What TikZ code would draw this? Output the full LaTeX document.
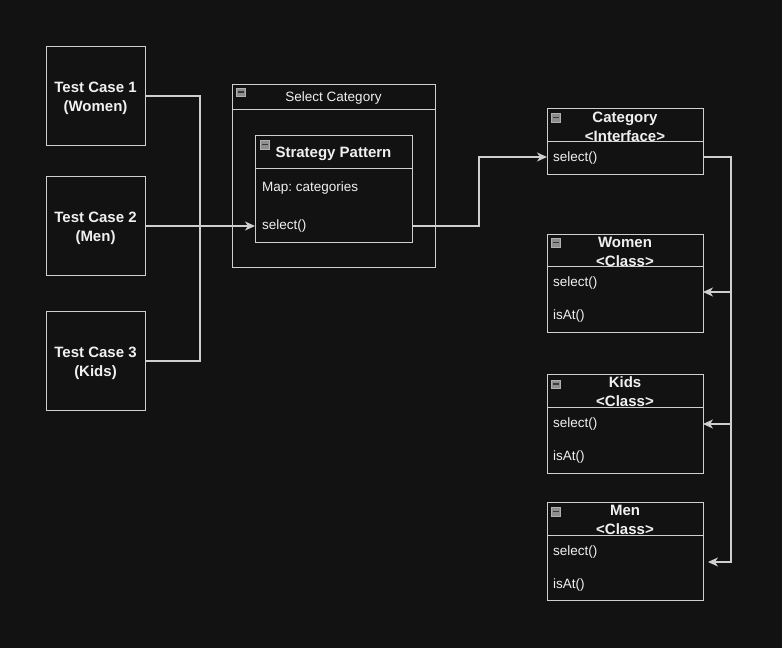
\documentclass[tikz,border=0pt]{standalone}
\usepackage{fontspec}
\setmainfont{Liberation Sans}
\usetikzlibrary{arrows.meta}
\definecolor{bg}{HTML}{121212}
\definecolor{ln}{HTML}{CFCFCF}
\definecolor{tx}{HTML}{F0F0F0}
\definecolor{icf}{HTML}{8E8E8E}
\definecolor{icd}{HTML}{3A3A3A}
\frenchspacing
\begin{document}
\begin{tikzpicture}[x=1pt,y=-1pt,
  box/.style={draw=ln, line width=1pt, inner sep=0pt, anchor=north west},
  lbl/.style={text=tx, font=\fontsize{13.5}{18}\selectfont, inner sep=0pt},
  blbl/.style={text=tx, font=\fontsize{15}{19}\selectfont\bfseries, inner sep=0pt, align=center},
  mem/.style={lbl, anchor=west},
  conn/.style={draw=ln, line width=1.1pt},
  arr/.style={conn, -{Stealth[length=10pt,width=9pt,inset=3pt]}},
  hdr/.style={draw=ln, line width=1pt},
  icon/.style={draw=icf!70, fill=icf, minimum width=9pt, minimum height=8.5pt, inner sep=0pt,
    path picture={\draw[icd, line width=1.2pt] ([xshift=1.5pt]path picture bounding box.west) -- ([xshift=-1.5pt]path picture bounding box.east);}}
]
\fill[bg] (0,0) rectangle (782,648);
\useasboundingbox (0,0) rectangle (782,648);

% Test cases
\node[box, minimum width=99pt, minimum height=99pt] (tc1) at (46,46) {};
\node[box, minimum width=99pt, minimum height=99pt] (tc2) at (46,176) {};
\node[box, minimum width=99pt, minimum height=99pt] (tc3) at (46,311) {};
\node[blbl] (tc1t) at (95.5,98) {Test Case 1\\(Women)};
\node[blbl] (tc2t) at (95.5,228) {Test Case 2\\(Men)};
\node[blbl] (tc3t) at (95.5,363) {Test Case 3\\(Kids)};

% Select Category
\node[box, minimum width=203pt, minimum height=183pt] (sc) at (232,84) {};
\draw[hdr] (232,109) -- (435,109);
\node[icon] (sci) at (240.5,92) {};
\node[lbl] (sct) at (333.5,98.5) {Select Category};

% Strategy Pattern
\node[box, minimum width=157pt, minimum height=107pt] (sp) at (255,135) {};
\draw[hdr] (255,168) -- (412,168);
\node[icon] (spi) at (264.5,144.5) {};
\node[blbl] (spt) at (333.5,153.5) {Strategy Pattern};
\node[mem] (spm) at (262,188.5) {Map: categories};
\node[mem] (sps) at (262,226.5) {select()};

% Category interface
\node[box, minimum width=156pt, minimum height=66pt] (cat) at (547,108) {};
\draw[hdr] (547,141) -- (703,141);
\node[icon] (cati) at (556,117.5) {};
\node[blbl] (catt) at (625,126.5) {Category\\<Interface>};
\node[mem] (cats) at (553,158.5) {select()};

% Women
\node[box, minimum width=156pt, minimum height=98pt] (wom) at (547,234) {};
\draw[hdr] (547,266) -- (703,266);
\node[icon] (womi) at (556,242.5) {};
\node[blbl] (womt) at (625,251.5) {Women\\<Class>};
\node[mem] (woms) at (553,283.5) {select()};
\node[mem] (woma) at (553,316.5) {isAt()};

% Kids
\node[box, minimum width=156pt, minimum height=99pt] (kid) at (547,374) {};
\draw[hdr] (547,407) -- (703,407);
\node[icon] (kidi) at (556,384) {};
\node[blbl] (kidt) at (625,392) {Kids\\<Class>};
\node[mem] (kids) at (553,424.5) {select()};
\node[mem] (kida) at (553,457.5) {isAt()};

% Men
\node[box, minimum width=156pt, minimum height=98pt] (men) at (547,502) {};
\draw[hdr] (547,535) -- (703,535);
\node[icon] (meni) at (556,511.5) {};
\node[blbl] (ment) at (625,519.5) {Men\\<Class>};
\node[mem] (mens) at (553,551.5) {select()};
\node[mem] (mena) at (553,584.5) {isAt()};

% Connectors
\coordinate (o1) at (145,96);
\coordinate (o2) at (145,226);
\coordinate (o3) at (145,361);
\coordinate (busT) at (200,96);
\coordinate (busB) at (200,361);
\coordinate (spin) at (255,226);
\draw[conn] (o1) -- (busT) -- (busB) -- (o3);
\draw[arr] (o2) -- (spin);

\coordinate (spout) at (412,226);
\coordinate (k1) at (479,226);
\coordinate (k2) at (479,157);
\coordinate (catin) at (547,157);
\draw[arr] (spout) -- (k1) -- (k2) -- (catin);

\coordinate (catout) at (703,157);
\coordinate (b1) at (731,157);
\coordinate (b2) at (731,292);
\coordinate (b3) at (731,424);
\coordinate (b4) at (731,562);
\coordinate (womin) at (703,292);
\coordinate (kidin) at (703,424);
\coordinate (menin) at (708,562);
\draw[arr] (catout) -- (b1) -- (b4) -- (menin);
\draw[arr] (b2) -- (womin);
\draw[arr] (b3) -- (kidin);
\end{tikzpicture}
\end{document}
